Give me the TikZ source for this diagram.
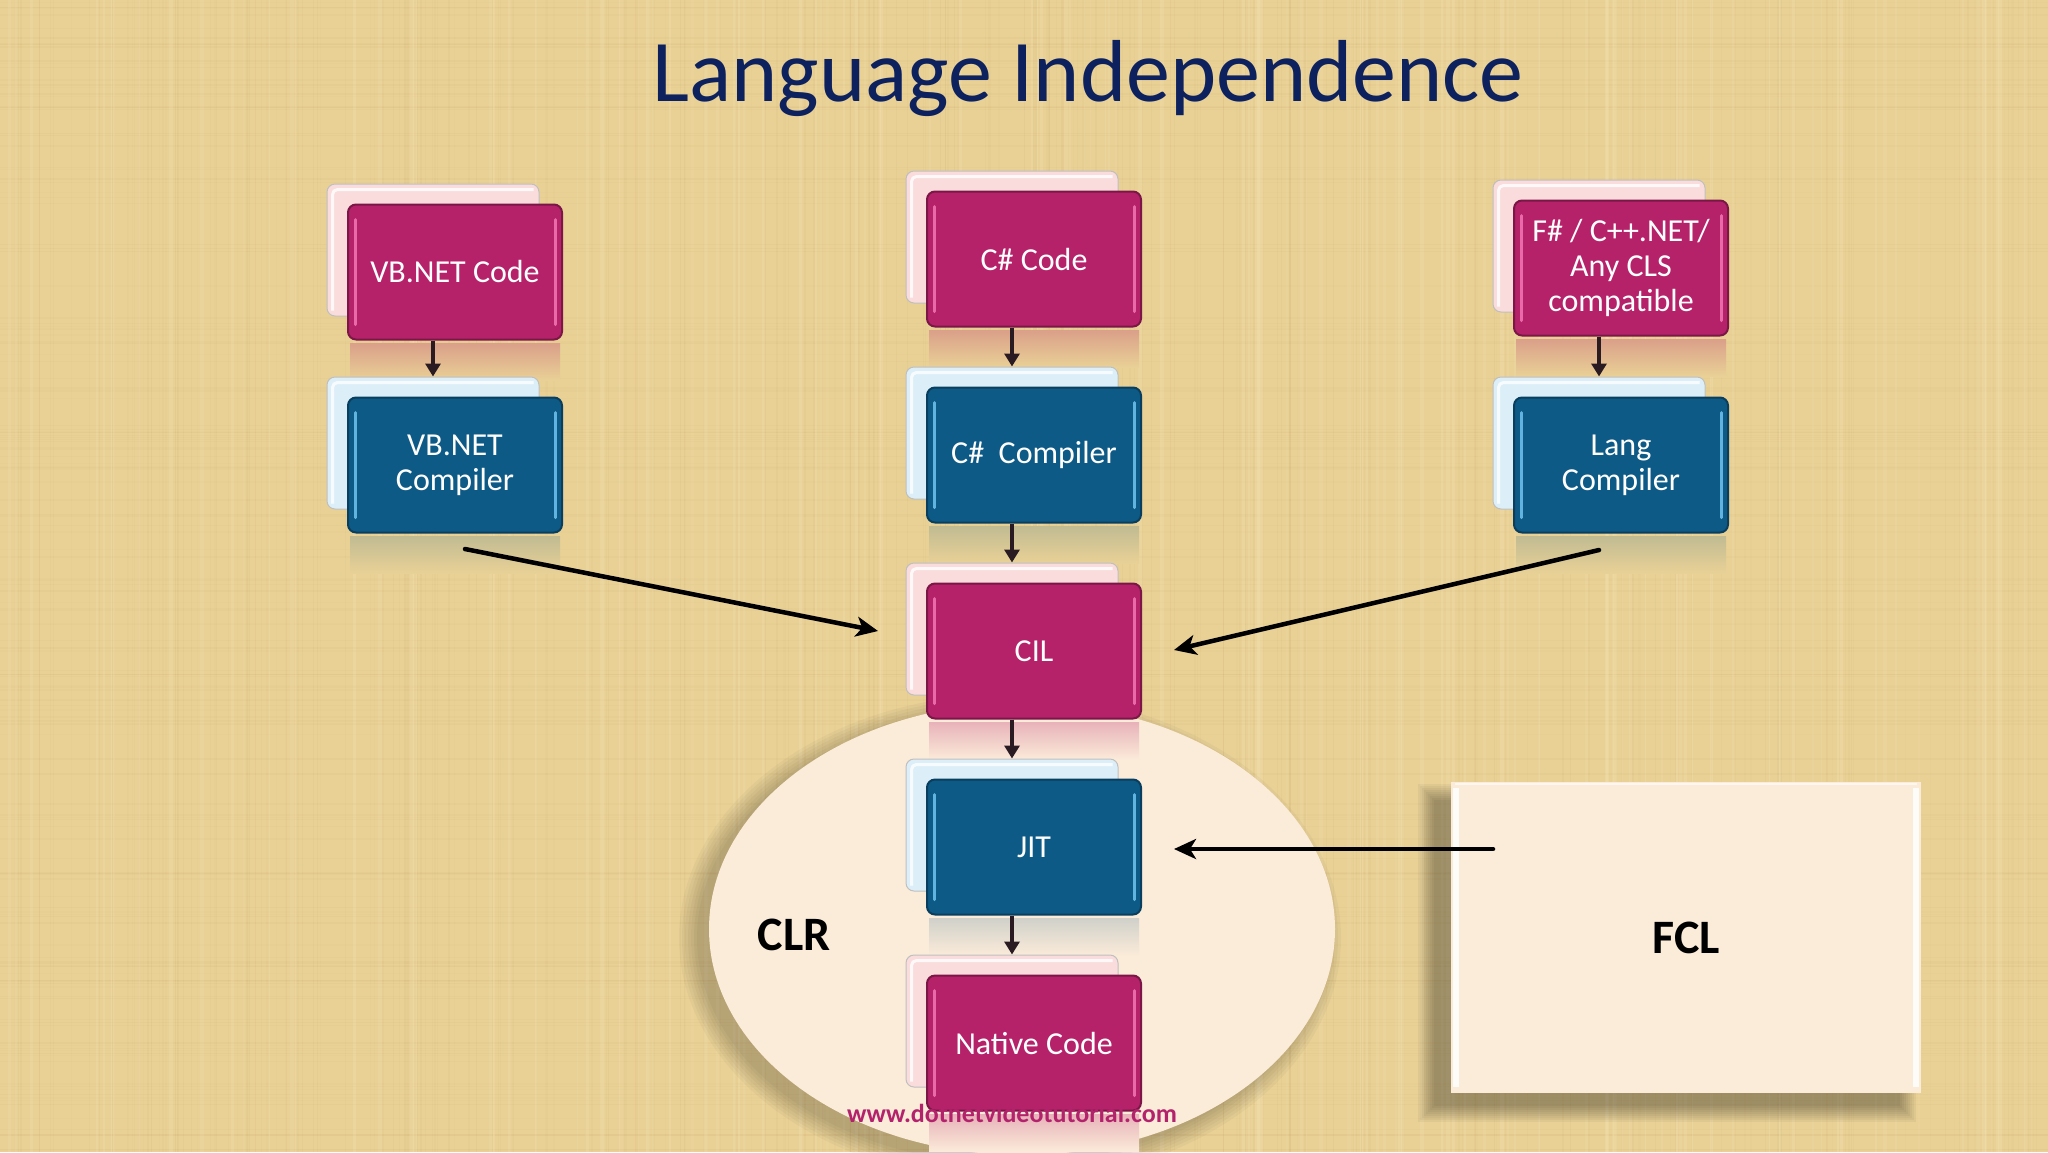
\documentclass[tikz,border=0pt]{standalone}
\usepackage{fontspec}
\setmainfont{Carlito}
\usetikzlibrary{arrows.meta,calc,shapes.geometric}
\pgfdeclarelayer{bgzero}
\pgfdeclarelayer{refl}
\pgfsetlayers{bgzero,refl,main}
\definecolor{bg}{HTML}{E9D196}
\definecolor{bgdark}{HTML}{C4A060}
\definecolor{bglight}{HTML}{F6E6B8}
\definecolor{mag}{HTML}{B6226A}
\definecolor{magd}{HTML}{7A1747}
\definecolor{magl}{HTML}{E86AA8}
\definecolor{blu}{HTML}{0E5A86}
\definecolor{blud}{HTML}{093E5E}
\definecolor{blul}{HTML}{62B4E0}
\definecolor{pinkback}{HTML}{FADCDC}
\definecolor{blueback}{HTML}{DCEFF8}
\definecolor{cream}{HTML}{FBEBD9}
\definecolor{navy}{HTML}{0C215E}
\definecolor{wm}{HTML}{B3236C}
\definecolor{arr}{HTML}{2A1A22}
\newcommand\mybxfont{\fontsize{32}{35}\selectfont}
\newcommand\boxpair[7]{%
  \node[back#4] (#1B) at (#2-22,#3-22) {};
  \draw[white, opacity=0.8, line width=3pt, rounded corners=5pt]
    ($(#1B.south west)+(6,-6)$) -- ($(#1B.north west)+(6,6)$) -- ($(#1B.north east)+(-6,6)$);
  \node[front#4] (#1) at (#2,#3) {#5};
  \draw[gloss#4] ($(#1.north west)+(8,16)$) -- ($(#1.south west)+(8,-16)$);
  \draw[gloss#4] ($(#1.north east)+(-8,16)$) -- ($(#1.south east)+(-8,-16)$);
  \begin{pgfonlayer}{refl}
    \shade[top color=#6, bottom color=#7] ($(#1.south west)+(3,3)$) rectangle ($(#1.south east)+(-3,40)$);
  \end{pgfonlayer}
}
\begin{document}
\begin{tikzpicture}[x=1pt,y=-1pt,
  frontm/.style={rectangle, rounded corners=8pt, minimum width=214pt, minimum height=135pt,
    fill=mag, draw=magd, line width=2pt, text=white, font=\mybxfont, align=center, inner sep=3pt},
  frontb/.style={frontm, fill=blu, draw=blud},
  backm/.style={rectangle, rounded corners=8pt, minimum width=212pt, minimum height=132pt,
    fill=pinkback, draw=black!25, line width=1pt},
  backb/.style={backm, fill=blueback},
  glossm/.style={draw=magl, line width=3pt, line cap=round},
  glossb/.style={draw=blul, line width=3pt, line cap=round},
  colarrow/.style={-{Triangle[length=13pt,width=15pt]}, line width=3.5pt, draw=arr},
  bigarrow/.style={-{Stealth[length=22pt,width=20pt,inset=6pt]}, line width=4.5pt, line cap=round, draw=black},
]
\useasboundingbox (0,0) rectangle (2048,1152);
\begin{pgfonlayer}{bgzero}
\fill[bg] (0,0) rectangle (2048,1152);
\pgfmathsetseed{42}
\foreach \i in {1,...,260}{
  \pgfmathsetmacro\xx{rnd*2048}
  \pgfmathsetmacro\ww{0.4+rnd*1.6}
  \pgfmathsetmacro\oo{0.03+rnd*0.08}
  \draw[bgdark, line width=\ww pt, opacity=\oo] (\xx,0) -- (\xx,1152);
}
\foreach \i in {1,...,160}{
  \pgfmathsetmacro\yy{rnd*1152}
  \pgfmathsetmacro\ww{0.4+rnd*1.6}
  \pgfmathsetmacro\oo{0.03+rnd*0.07}
  \draw[bgdark, line width=\ww pt, opacity=\oo] (0,\yy) -- (2048,\yy);
}
\foreach \i in {1,...,140}{
  \pgfmathsetmacro\xx{rnd*2048}
  \pgfmathsetmacro\ww{1+rnd*3}
  \pgfmathsetmacro\oo{0.08+rnd*0.2}
  \draw[bglight, line width=\ww pt, opacity=\oo] (\xx,0) -- (\xx,1152);
}
% CLR ellipse shadow and ellipse
\foreach \r in {0,3,...,18}
  \fill[black, opacity=0.03] (1010,938) ellipse [x radius=313+\r, y radius=226+\r];
\node[ellipse, minimum width=626pt, minimum height=452pt, fill=cream, inner sep=0pt] (clrshape) at (1022,929) {};
% FCL shadow and box
\foreach \r in {0,2,...,16}
  \fill[black, opacity=0.04] (1434-\r,800-\r) rectangle (1900+\r,1106+\r);
\node[rectangle, minimum width=470pt, minimum height=311pt, fill=cream, inner sep=0pt,
  font=\fontsize{48}{50}\selectfont\bfseries] (fcl) at (1686,937.5) {FCL};
\draw[white, opacity=0.85, line width=6pt] ($(fcl.north west)+(5,6)$) -- ($(fcl.south west)+(5,-6)$);
\draw[white, opacity=0.85, line width=6pt] ($(fcl.north east)+(-5,6)$) -- ($(fcl.south east)+(-5,-6)$);
\draw[white, opacity=0.6, line width=2pt] ($(fcl.north west)+(4,2)$) -- ($(fcl.north east)+(-4,2)$);
\end{pgfonlayer}

\node[anchor=base, text=navy, font=\fontsize{88}{100}\selectfont] (title) at (1088,101) {Language Independence};

\boxpair{vbcode}{455}{272}{m}{VB.NET Code}{mag!28!bg}{bg}
\boxpair{vbcomp}{455}{465}{b}{VB.NET\\Compiler}{blu!18!bg}{bg}
\boxpair{cscode}{1034}{259}{m}{C\# Code}{mag!28!bg}{bg}
\boxpair{cscomp}{1034}{455}{b}{C\#\ \ Compiler}{blu!18!bg}{bg}
\boxpair{cil}{1034}{651}{m}{CIL}{mag!28!cream}{cream}
\boxpair{jit}{1034}{847}{b}{JIT}{blu!18!cream}{cream}
\boxpair{native}{1034}{1043}{m}{Native Code}{mag!28!cream}{cream}
\boxpair{fscode}{1621}{268}{m}{F\# / C++.NET/\\Any CLS\\compatible}{mag!28!bg}{bg}
\boxpair{langcomp}{1621}{465}{b}{Lang\\Compiler}{blu!18!bg}{bg}

\draw[colarrow] (vbcompB.north |- vbcode.south) -- (vbcompB.north);
\draw[colarrow] (langcompB.north |- fscode.south) -- (langcompB.north);
\draw[colarrow] (cscompB.north |- cscode.south) -- (cscompB.north);
\draw[colarrow] (cilB.north |- cscomp.south) -- (cilB.north);
\draw[colarrow] (jitB.north |- cil.south) -- (jitB.north);
\draw[colarrow] (nativeB.north |- jit.south) -- (nativeB.north);

\coordinate (a1s) at (465,549);
\coordinate (a1e) at (878,631);
\coordinate (a2s) at (1599,550);
\coordinate (a2e) at (1174,650);
\coordinate (a3s) at (1493,849);
\coordinate (a3e) at (1174,849);
\draw[bigarrow] (a1s) -- (a1e);
\draw[bigarrow] (a2s) -- (a2e);
\draw[bigarrow] (a3s) -- (a3e);

\node[font=\fontsize{48}{50}\selectfont\bfseries] (clr) at (794,935) {CLR};
\node[font=\fontsize{26}{28}\selectfont\bfseries, text=wm] (wmark) at (1012,1113) {www.dotnetvideotutorial.com};
\end{tikzpicture}
\end{document}
